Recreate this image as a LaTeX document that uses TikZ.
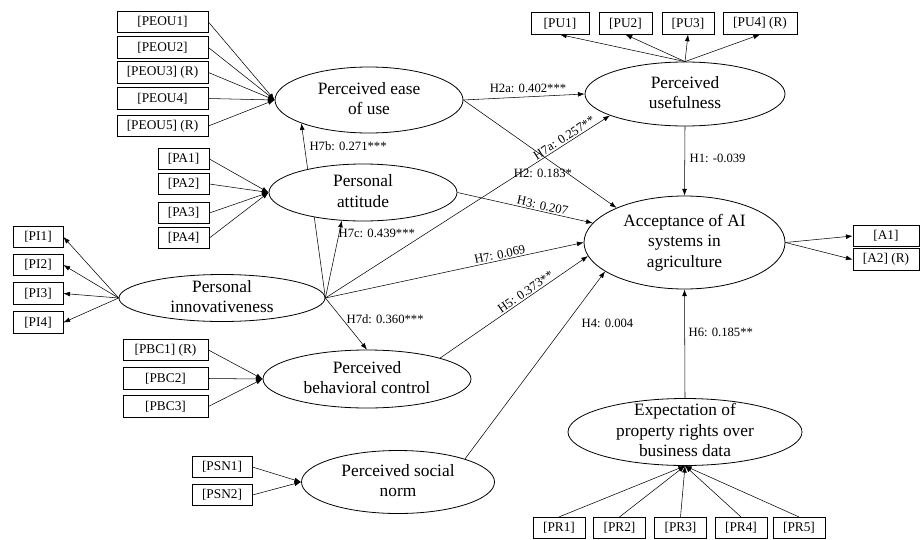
\documentclass[tikz,border=0pt]{standalone}
\usepackage{fontspec}
\setmainfont{Liberation Serif}
\usetikzlibrary{shapes.geometric,arrows.meta,backgrounds}
\newcommand{\lvtext}[1]{\raisebox{-3.2pt}[0pt][0pt]{\begin{tabular}{@{}c@{}}#1\end{tabular}}}
\tikzset{latent/.style n args={2}{ellipse, draw, fill=white, inner sep=0pt,
            minimum width=#1, minimum height=#2,
            font=\fontsize{13}{15.4}\selectfont},
         indicator/.style={draw, fill=white, inner sep=0pt, minimum height=16pt,
            minimum width=#1, font=\fontsize{10}{12}\selectfont},
         hyp/.style={font=\fontsize{9.5}{11}\selectfont, inner sep=1pt}
}
\begin{document}
\begin{tikzpicture}[x=0.75pt,y=-0.75pt,line width=0.6pt,>={Latex[length=5pt,width=3.6pt]}]
\useasboundingbox (0,0) rectangle (920,539);
\node[latent={141pt}{49.5pt}] (peou) at (369,100) {\lvtext{Perceived ease\\of use}};
\node[latent={141pt}{42.75pt}] (pa) at (363,192.5) {\lvtext{Personal\\attitude}};
\node[latent={154.5pt}{35.25pt}] (pi) at (222,298) {\lvtext{Personal\\innovativeness}};
\node[latent={156pt}{43.5pt}] (pbc) at (367,379) {\lvtext{Perceived\\behavioral control}};
\node[latent={144.75pt}{47.25pt}] (psn) at (398,482) {\lvtext{Perceived social\\norm}};
\node[latent={150pt}{48pt}] (pu) at (685,94) {\lvtext{Perceived\\usefulness}};
\node[latent={150.75pt}{69.75pt}] (acc) at (684.5,242.5) {\lvtext{Acceptance of AI\\systems in\\agriculture}};
\node[latent={175.5pt}{50.25pt}] (epr) at (685,432) {\lvtext{Expectation of\\property rights over\\business data}};
\node[indicator=68.25pt] (peou1) at (162.5,22) {[PEOU1]};
\node[indicator=68.25pt] (peou2) at (162.5,47.5) {[PEOU2]};
\node[indicator=68.25pt] (peou3) at (162.5,72.5) {[PEOU3] (R)};
\node[indicator=68.25pt] (peou4) at (162.5,98.5) {[PEOU4]};
\node[indicator=68.25pt] (peou5) at (162.5,126) {[PEOU5] (R)};
\node[indicator=38.25pt] (pa1) at (183.5,159) {[PA1]};
\node[indicator=38.25pt] (pa2) at (183.5,184) {[PA2]};
\node[indicator=38.25pt] (pa3) at (183.5,213) {[PA3]};
\node[indicator=38.25pt] (pa4) at (183.5,238) {[PA4]};
\node[indicator=37.5pt] (pi1) at (38,237) {[PI1]};
\node[indicator=37.5pt] (pi2) at (38,265) {[PI2]};
\node[indicator=37.5pt] (pi3) at (38,293.5) {[PI3]};
\node[indicator=37.5pt] (pi4) at (38,322.5) {[PI4]};
\node[indicator=63.75pt] (pbc1) at (165.5,350) {[PBC1] (R)};
\node[indicator=63.75pt] (pbc2) at (165.5,378.5) {[PBC2]};
\node[indicator=63.75pt] (pbc3) at (165.5,406.5) {[PBC3]};
\node[indicator=45pt] (psn1) at (222,467) {[PSN1]};
\node[indicator=45pt] (psn2) at (222,495) {[PSN2]};
\node[indicator=43.5pt] (pu1) at (560,23.5) {[PU1]};
\node[indicator=39.75pt] (pu2) at (625.5,23.5) {[PU2]};
\node[indicator=39pt] (pu3) at (688,23.5) {[PU3]};
\node[indicator=55.5pt] (pu4) at (760,23.5) {[PU4] (R)};
\node[indicator=49.5pt] (a1) at (886,236) {[A1]};
\node[indicator=49.5pt] (a2) at (886,259.5) {[A2] (R)};
\node[indicator=39pt] (pr1) at (559,528) {[PR1]};
\node[indicator=39pt] (pr2) at (619.5,528) {[PR2]};
\node[indicator=39pt] (pr3) at (680.5,528) {[PR3]};
\node[indicator=39pt] (pr4) at (741,528) {[PR4]};
\node[indicator=39pt] (pr5) at (799,528) {[PR5]};
\begin{pgfonlayer}{background}
\draw[->] (peou1.east) -- (peou.west);
\draw[->] (peou2.east) -- (peou.west);
\draw[->] (peou3.east) -- (peou.west);
\draw[->] (peou4.east) -- (peou.west);
\draw[->] (peou5.east) -- (peou.west);
\draw[->] (pa1.east) -- (pa.west);
\draw[->] (pa2.east) -- (pa.west);
\draw[->] (pa3.east) -- (pa.west);
\draw[->] (pa4.east) -- (pa.west);
\draw[->] (pi.west) -- (pi1.east);
\draw[->] (pi.west) -- (pi2.east);
\draw[->] (pi.west) -- (pi3.east);
\draw[->] (pi.west) -- (pi4.east);
\draw[->] (pbc1.east) -- (pbc.west);
\draw[->] (pbc2.east) -- (pbc.west);
\draw[->] (pbc3.east) -- (pbc.west);
\draw[->] (psn1.east) -- (psn.west);
\draw[->] (psn2.east) -- (psn.west);
\draw[->] (pu.north) -- (pu1.south);
\draw[->] (pu.north) -- (pu2.south);
\draw[->] (pu.north) -- (pu3.south);
\draw[->] (pu.north) -- (pu4.south);
\draw[->] (acc.east) -- (a1.west);
\draw[->] (acc.east) -- (a2.west);
\draw[->] (pr1.north) -- (epr.south);
\draw[->] (pr2.north) -- (epr.south);
\draw[->] (pr3.north) -- (epr.south);
\draw[->] (pr4.north) -- (epr.south);
\draw[->] (pr5.north) -- (epr.south);
\draw[->] (peou.east) -- (pu.west);
\draw[->] (peou.east) -- (acc.153);
\draw[->] (pu.south) -- (acc.north);
\draw[->] (pi.east) -- (peou.199);
\draw[->] (pi.east) -- (pa.233);
\draw[->] (pi.east) -- node[hyp, sloped, above, pos=0.85] (l7a) {H7a: 0.257**} (pu.196);
\draw[->] (pi.east) -- (pbc.north);
\draw[->] (pi.east) -- node[hyp, sloped, above, pos=0.68] (l7) {H7: 0.069} (acc.west);
\draw[->] (pa.east) -- node[hyp, sloped, above, pos=0.62] (l3) {H3: 0.207} (acc.168);
\draw[->] (pbc.16) -- node[hyp, sloped, above, pos=0.6] (l5) {H5: 0.373**} (acc.188);
\draw[->] (psn.19) -- (acc.200);
\draw[->] (epr.north) -- (acc.south);
\end{pgfonlayer}
\node[hyp] (l2a) at (528,88) {H2a: 0.402***};
\node[hyp] (l2) at (543,173) {H2: 0.183*};
\node[hyp, anchor=west] (l1) at (688,158) {H1: -0.039};
\node[hyp, anchor=west] (l7b) at (308,146) {H7b: 0.271***};
\node[hyp, anchor=west] (l7c) at (337,233) {H7c: 0.439***};
\node[hyp, anchor=west] (l7d) at (345,319) {H7d: 0.360***};
\node[hyp, anchor=west] (l4) at (580,323) {H4: 0.004};
\node[hyp, anchor=west] (l6) at (687,332) {H6: 0.185**};
\end{tikzpicture}
\end{document}
